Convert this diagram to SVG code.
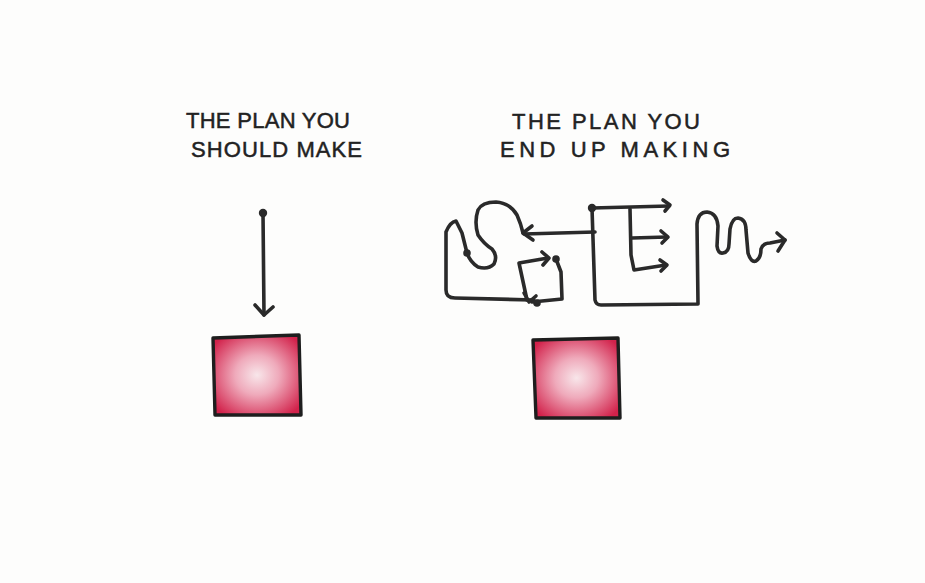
<svg xmlns="http://www.w3.org/2000/svg" width="925" height="583" viewBox="0 0 925 583">
<defs>
<radialGradient id="pink" cx="50%" cy="50%" r="62%">
<stop offset="0%" stop-color="#f8e6ea"/>
<stop offset="40%" stop-color="#efaabb"/>
<stop offset="100%" stop-color="#d2224b"/>
</radialGradient>
<style>
.ln{fill:none;stroke:#2a2a2a;stroke-width:3.6;stroke-linecap:round;stroke-linejoin:round}
.dot{fill:#2a2a2a}
.sq{fill:url(#pink);stroke:#1e1e1e;stroke-width:3.4;stroke-linejoin:round}
.t{font-family:"Liberation Sans","DejaVu Sans",sans-serif;font-size:22px;fill:#222;stroke:#222;stroke-width:0.5}
</style>
</defs>
<rect width="925" height="583" fill="#fdfdfc"/>

<g id="title-left">
<text class="t" x="186" y="128" textLength="164" lengthAdjust="spacing">THE PLAN YOU</text>
<text class="t" x="191" y="157" textLength="171" lengthAdjust="spacing">SHOULD MAKE</text>
</g>
<g id="title-right">
<text class="t" x="512" y="129" textLength="188" lengthAdjust="spacing">THE PLAN YOU</text>
<text class="t" x="500" y="157" textLength="230" lengthAdjust="spacing">END UP MAKING</text>
</g>

<g id="connectors">
<g id="arrow-left">
<circle class="dot" cx="263" cy="213" r="4.2"/>
<path class="ln" d="M263 213 L264 315"/>
<path class="ln" d="M255 305 L264 315 L273 307"/>
</g>
<g id="arrow-right">
<circle class="dot" cx="592" cy="208" r="4.2"/>
<circle class="dot" cx="467" cy="253" r="3.8"/>
<circle class="dot" cx="556" cy="259" r="3.8"/>
<circle class="dot" cx="537" cy="303" r="3.8"/>
<path class="ln" d="M592 208 L669 206"/>
<path class="ln" d="M663 200 L670 205 L665 211"/>
<path class="ln" d="M630 209 L631 255 L634 270 L666 265"/>
<path class="ln" d="M660 260 L667 265 L661 271"/>
<path class="ln" d="M632 238 L667 237"/>
<path class="ln" d="M661 231 L668 237 L662 243"/>
<path class="ln" d="M592 208 L595 300 Q596 305 601 305 L698 304 L697 224 Q698 212 707 212 Q717 213 718 226 L717 246 Q718 254 723 253 Q729 252 729 244 L730 229 Q732 218 738 218 Q746 219 746 230 L748 253 Q751 263 756 261 Q761 258 761 249 Q763 243 770 243 L785 240"/>
<path class="ln" d="M777 233 L785 240 L778 251"/>
<path class="ln" d="M595 232 L524 234"/>
<path class="ln" d="M532 226 L523 233 L533 240"/>
<path class="ln" d="M523 233 Q521 224 517 215 Q510 203 496 202 Q482 202 478 210 Q474 222 478 235 Q484 244 492 249 Q498 256 494 264 Q488 270 478 267 Q470 262 467 253 L462 233 L456 221 Q450 222 446 232 L446 290 Q446 298 455 298 L533 300 L537 303"/>
<path class="ln" d="M548 258 L519 263 L527 300"/>
<path class="ln" d="M542 252 L549 258 L543 265"/>
<path class="ln" d="M556 259 L561 272 L562 299 L532 302"/>
<path class="ln" d="M524 293 L529 302 L536 296"/>
</g>
</g>

<g id="square-left">
<path class="sq" d="M213 338 L299 335 L301 415 L215 415 Z"/>
</g>
<g id="square-right">
<path class="sq" d="M533 340 L618 338 L620 418 L536 418 Z"/>
</g>
</svg>
